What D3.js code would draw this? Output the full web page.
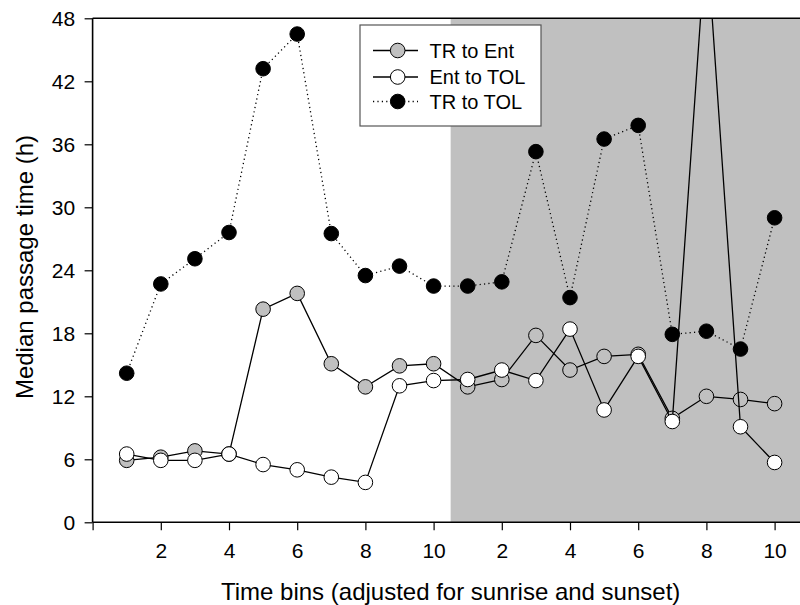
<!DOCTYPE html>
<html>
<head>
<meta charset="utf-8">
<script src="https://cdn.jsdelivr.net/npm/d3@7"></script>
<style>
  body { margin: 0; background: #fff; }
  svg { display: block; font-family: Arial, "Liberation Sans", sans-serif; }
</style>
</head>
<body>
<div id="chart"></div>
<script>
// time bins 1..20 (first 10 = day, second 10 = night)
const bins = d3.range(1, 21)
const xTicks = [0, 2, 4, 6, 8, 10, 12, 14, 16, 18, 20]
const yTicks = [0, 6, 12, 18, 24, 30, 36, 42, 48]

const trToEnt = [5.9, 6.2, 6.8, 6.5, 20.3, 21.8, 15.1, 12.9, 14.9, 15.1,
                 12.9, 13.6, 17.8, 14.5, 15.8, 16.0, 9.9, 12.0, 11.7, 11.3]
const entToTol = [6.5, 5.9, 5.9, 6.5, 5.5, 5.0, 4.3, 3.8, 13.0, 13.5,
                  13.6, 14.5, 13.5, 18.4, 10.7, 15.8, 9.6, 56.0, 9.1, 5.7]
const trToTol = [14.2, 22.7, 25.1, 27.6, 43.2, 46.5, 27.5, 23.5, 24.4, 22.5,
                 22.5, 22.9, 35.3, 21.4, 36.5, 37.8, 17.9, 18.2, 16.5, 29.0]

const seriesNames = ['TR to Ent', 'Ent to TOL', 'TR to TOL']
const nightStart = 10.5

/*
* General config: size of the drawing and plot area
*/
const config = {
    width: 800,
    height: 605,
    plot: { left: 92.6, right: 808.7, top: 18.3, bottom: 522.3 },
    font: 'Arial, "Liberation Sans", sans-serif',
}

const x = d3.scaleLinear().domain([0, 21]).range([config.plot.left, config.plot.right])
const y = d3.scaleLinear().domain([0, 48]).range([config.plot.bottom, config.plot.top])

const svg = d3
    .select('#chart')
    .append('svg')
    .attr('width', config.width)
    .attr('height', config.height)

svg.append('defs')
    .append('clipPath')
    .attr('id', 'plot-clip')
    .append('rect')
    .attr('x', config.plot.left)
    .attr('y', config.plot.top)
    .attr('width', config.plot.right - config.plot.left)
    .attr('height', config.plot.bottom - config.plot.top)

// gray band for the night bins
svg.append('rect')
    .attr('x', x(nightStart))
    .attr('y', y(48))
    .attr('width', x(21) - x(nightStart))
    .attr('height', y(0) - y(48))
    .attr('fill', '#c0c0c0')

// series: line style + marker fill
const series = [
    { name: seriesNames[0], values: trToEnt, fill: '#c0c0c0', dash: null },
    { name: seriesNames[1], values: entToTol, fill: '#ffffff', dash: null },
    { name: seriesNames[2], values: trToTol, fill: '#000000', dash: '1.2,3.2' },
]

const line = d3.line()
    .x((d, i) => x(bins[i]))
    .y(d => y(d))

const plot = svg.append('g').attr('clip-path', 'url(#plot-clip)')

series.forEach(s => {
    const g = plot.append('g')
    g.append('path')
        .datum(s.values)
        .attr('d', line)
        .attr('fill', 'none')
        .attr('stroke', '#000')
        .attr('stroke-width', 1.3)
        .attr('stroke-dasharray', s.dash)

    g.selectAll('circle')
        .data(s.values)
        .enter()
        .append('circle')
        .attr('cx', (d, i) => x(bins[i]))
        .attr('cy', d => y(d))
        .attr('r', 7.3)
        .attr('fill', s.fill)
        .attr('stroke', '#000')
        .attr('stroke-width', 1)
})

// axes
const xAxis = svg.append('g')
    .attr('transform', 'translate(0,' + config.plot.bottom + ')')
    .call(d3.axisBottom(x)
        .tickValues(xTicks)
        .tickSize(8)
        .tickPadding(13)
        .tickFormat(d => d === 0 ? '' : (d > 10 ? d - 10 : d)))

const yAxis = svg.append('g')
    .attr('transform', 'translate(' + config.plot.left + ',0)')
    .call(d3.axisLeft(y)
        .tickValues(yTicks)
        .tickSize(8)
        .tickPadding(9.5))

;[xAxis, yAxis].forEach(a => {
    a.select('.domain').attr('stroke-width', 1.6)
    a.selectAll('.tick line').attr('stroke-width', 1.2)
    a.selectAll('.tick text')
        .attr('font-size', '21px')
        .attr('font-family', config.font)
        .attr('fill', '#000')
})
// no outer tick ends on the domain lines
xAxis.select('.domain').attr('d', 'M' + config.plot.left + ',0H' + config.plot.right)
yAxis.select('.domain').attr('d', 'M0,' + config.plot.bottom + 'V' + config.plot.top)

// top frame line
svg.append('line')
    .attr('x1', config.plot.left)
    .attr('x2', config.plot.right)
    .attr('y1', config.plot.top)
    .attr('y2', config.plot.top)
    .attr('stroke', '#000')
    .attr('stroke-width', 1.6)

// axis titles
svg.append('text')
    .attr('x', (config.plot.left + config.plot.right) / 2)
    .attr('y', 600)
    .attr('text-anchor', 'middle')
    .attr('font-size', '24px')
    .text('Time bins (adjusted for sunrise and sunset)')

svg.append('text')
    .attr('transform', 'translate(33,' + 267 + ') rotate(-90)')
    .attr('text-anchor', 'middle')
    .attr('font-size', '24px')
    .text('Median passage time (h)')

// legend
const legend = svg.append('g').attr('transform', 'translate(360,25)')
legend.append('rect')
    .attr('width', 181)
    .attr('height', 101)
    .attr('fill', '#fff')
    .attr('stroke', '#555')
    .attr('stroke-width', 1.2)

const rowY = [25.5, 52, 76.5]
series.forEach((s, i) => {
    const row = legend.append('g').attr('transform', 'translate(0,' + rowY[i] + ')')
    row.append('line')
        .attr('x1', 13).attr('x2', 58)
        .attr('stroke', '#000')
        .attr('stroke-width', 1.3)
        .attr('stroke-dasharray', s.dash)
    row.append('circle')
        .attr('cx', 37.7)
        .attr('r', 7.3)
        .attr('fill', s.fill)
        .attr('stroke', '#000')
    row.append('text')
        .attr('x', 69.5)
        .attr('dy', '0.35em')
        .attr('font-size', '20px')
        .text(s.name)
})
</script>
</body>
</html>
